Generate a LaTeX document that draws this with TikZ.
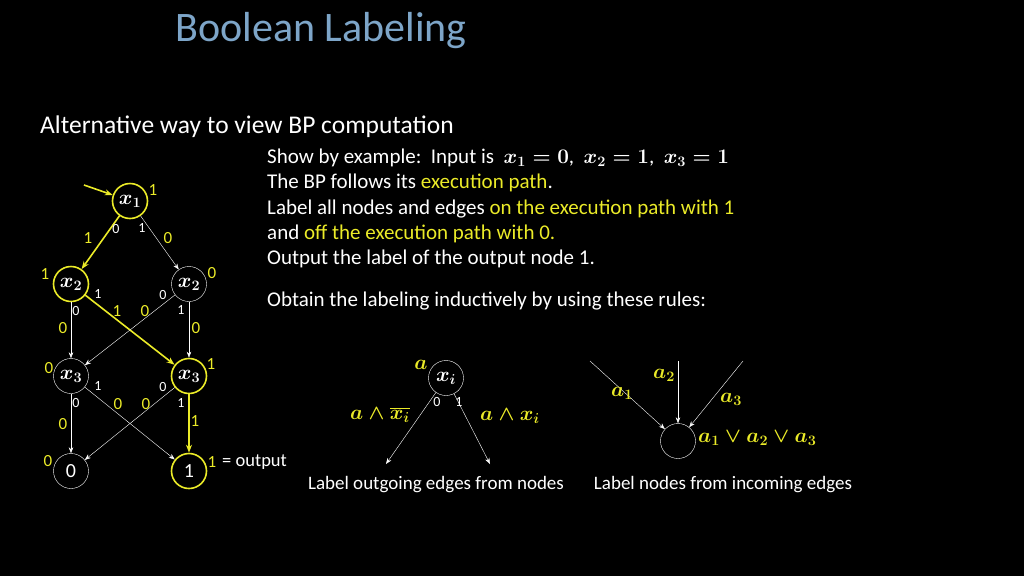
\documentclass[tikz,border=0pt]{standalone}
\usepackage{fontspec}
\setmainfont{Carlito}
\usetikzlibrary{arrows.meta}
\definecolor{yl}{RGB}{235,235,40}
\definecolor{ttl}{RGB}{125,165,200}
\begin{document}
\begin{tikzpicture}[x=1pt,y=-1pt,
 nd/.style={circle,draw=white,thin,minimum size=35pt,inner sep=0pt,text=white,font=\fontsize{20}{20}\selectfont\boldmath},
 yn/.style={nd,draw=yl,line width=1.6pt},
 ed/.style={white,thin,-{Stealth[length=6pt]}},
 ye/.style={yl,line width=1.6pt,-{Stealth[length=8pt]}},
 lb/.style={text=white,font=\fontsize{14}{14}\selectfont,inner sep=0pt},
 yb/.style={text=yl,font=\fontsize{17}{17}\selectfont,inner sep=0pt},
 mb/.style={yb,font=\fontsize{21}{21}\selectfont\boldmath},
 tx/.style={text=white,font=\fontsize{21}{21}\selectfont,anchor=west,inner sep=0pt}]
\fill[black] (0,0) rectangle (1024,576);
\node[text=ttl,font=\fontsize{42}{42}\selectfont,anchor=west] (title) at (172,31) {Boolean Labeling};
\node[tx,font=\fontsize{25.5}{25.5}\selectfont] (alt) at (40,127) {Alternative way to view BP computation};
\node[tx] (l1) at (267,158) {Show by example:\ \ Input is \ {\boldmath$x_1=0$},\ \ {\boldmath$x_2=1$},\ \ {\boldmath$x_3=1$}};
\node[tx] (l2) at (267,183) {The BP follows its \textcolor{yl}{execution path}.};
\node[tx] (l3) at (267,209) {Label all nodes and edges \textcolor{yl}{on the execution path with 1}};
\node[tx] (l4) at (267,234) {and \textcolor{yl}{off the execution path with 0.}};
\node[tx] (l5) at (267,259) {Output the label of the output node 1.};
\node[tx] (l6) at (267,301) {Obtain the labeling inductively by using these rules:};
% graph
\node[yn] (a) at (130,201) {$x_1$};
\node[yn] (b) at (71,284) {$x_2$};
\node[nd] (c) at (189,284) {$x_2$};
\node[nd] (d) at (71,376) {$x_3$};
\node[yn] (e) at (189,376) {$x_3$};
\node[nd] (f) at (71,471) {0};
\node[yn] (g) at (189,471) {1};
\coordinate (s) at (84,185);
\draw[ye] (s) -- (a);
\draw[ye] (a) -- (b);
\draw[ed] (a) -- (c);
\draw[ed] (b) -- (d);
\draw[ye] (b) -- (e);
\draw[ed] (c) -- (d);
\draw[ed] (c) -- (e);
\draw[ed] (d) -- (f);
\draw[ed] (d) -- (g);
\draw[ed] (e) -- (f);
\draw[ye] (e) -- (g);
% edge small labels
\node[lb] at (116,229) {0}; \node[lb] at (142,228) {1};
\node[lb] at (98,294) {1}; \node[lb] at (76,311) {0};
\node[lb] at (163,295) {0}; \node[lb] at (181,310) {1};
\node[lb] at (98,386) {1}; \node[lb] at (76,403) {0};
\node[lb] at (163,387) {0}; \node[lb] at (181,403) {1};
% yellow labels
\node[yb] at (153,190) {1};
\node[yb] at (88,238) {1}; \node[yb] at (168,238) {0};
\node[yb] at (45,274) {1}; \node[yb] at (212,273) {0};
\node[yb] at (117,311) {1}; \node[yb] at (145,311) {0};
\node[yb] at (63,328) {0}; \node[yb] at (196,328) {0};
\node[yb] at (49,368) {0}; \node[yb] at (211,364) {1};
\node[yb] at (118,404) {0}; \node[yb] at (146,404) {0};
\node[yb] at (63,424) {0}; \node[yb] at (195,421) {1};
\node[yb] at (48,461) {0}; \node[yb] at (212,462) {1};
\node[tx,font=\fontsize{18.5}{18.5}\selectfont] at (222,462) {= output};
% rule 1
\node[nd] (r) at (446,378) {$x_i$};
\coordinate (r0) at (386,464);
\coordinate (r1) at (490,464);
\draw[ed] (r) -- (r0);
\draw[ed] (r) -- (r1);
\node[mb] at (421,365) {$a$};
\node[lb] at (437,402) {0}; \node[lb] at (459,402) {1};
\node[mb] at (380,415) {$a\wedge\overline{x_i}$};
\node[mb] at (510,416) {$a\wedge x_i$};
\node[tx,font=\fontsize{19}{19}\selectfont,anchor=center] at (436,485) {Label outgoing edges from nodes};
% rule 2
\node[nd] (q) at (678,441) {};
\coordinate (q1) at (590,361);
\coordinate (q2) at (678,361);
\coordinate (q3) at (743,361);
\draw[ed] (q1) -- (q);
\draw[ed] (q2) -- (q);
\draw[ed] (q3) -- (q);
\node[mb] at (622,393) {$a_1$};
\node[mb] at (664,375) {$a_2$};
\node[mb] at (731,399) {$a_3$};
\node[mb,anchor=west] at (698,438) {$a_1\vee a_2\vee a_3$};
\node[tx,font=\fontsize{19}{19}\selectfont,anchor=center] at (723,485) {Label nodes from incoming edges};
\end{tikzpicture}
\end{document}
